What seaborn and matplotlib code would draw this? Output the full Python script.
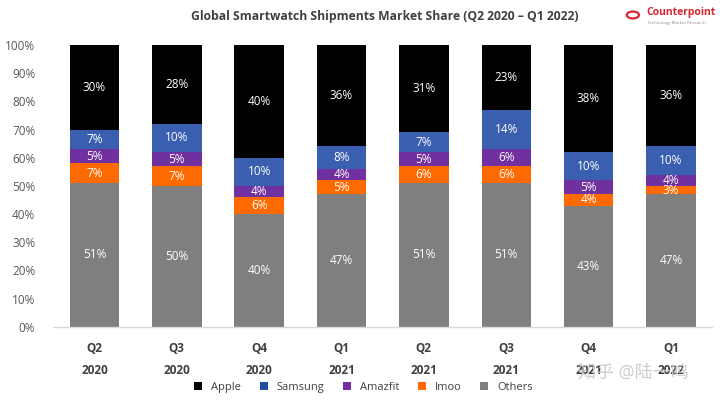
import matplotlib
matplotlib.use("Agg")
import matplotlib.pyplot as plt
import seaborn as sns
import numpy as np
from matplotlib.patches import Circle, Patch

sns.set_theme(style="white")
plt.rcParams['font.family'] = ['Open Sans', 'Noto Sans CJK SC', 'DejaVu Sans']

quarters = ["Q2\n2020", "Q3\n2020", "Q4\n2020", "Q1\n2021",
            "Q2\n2021", "Q3\n2021", "Q4\n2021", "Q1\n2022"]
others = [51, 50, 40, 47, 51, 51, 43, 47]
imoo = [7, 7, 6, 5, 6, 6, 4, 3]
amazfit = [5, 5, 4, 4, 5, 6, 5, 4]
samsung = [7, 10, 10, 8, 7, 14, 10, 10]
apple = [30, 28, 40, 36, 31, 23, 38, 36]

series = [("Others", others, "#7f7f7f"),
          ("Imoo", imoo, "#ff6a00"),
          ("Amazfit", amazfit, "#7030a0"),
          ("Samsung", samsung, "#3a5fb0"),
          ("Apple", apple, "#000000")]

fig = plt.figure(figsize=(7.2, 4.05), dpi=100)
ax = fig.add_axes([0.074, 0.193, 0.915, 0.696])

cum = np.zeros(len(quarters))
for name, vals, col in series:
    sns.barplot(x=quarters, y=vals, bottom=cum, color=col, width=0.6,
                ax=ax, saturation=1, edgecolor="none", linewidth=0, legend=False)
    cont = ax.containers[-1]
    ax.bar_label(cont, labels=[f"{v}%" for v in vals], label_type="center",
                 color="white", fontsize=8.5)
    cum = cum + np.array(vals)

if ax.get_legend() is not None:
    ax.get_legend().remove()

ax.set_ylim(0, 100)
ax.set_xlim(-0.5, len(quarters) - 0.5)
ax.set_yticks(range(0, 101, 10))
ax.set_yticklabels([f"{t}%" for t in range(0, 101, 10)], color="#595959", fontsize=8.5)
ax.tick_params(axis="y", length=0, pad=13)
ax.tick_params(axis="x", length=0, pad=11)
for lab in ax.get_xticklabels():
    lab.set_fontweight("bold")
    lab.set_color("#404040")
    lab.set_fontsize(8.5)
    lab.set_linespacing(1.9)
for s in ["top", "right", "left"]:
    ax.spines[s].set_visible(False)
ax.spines["bottom"].set_color("#d9d9d9")
ax.spines["bottom"].set_linewidth(1)
ax.set_xlabel("")
ax.set_ylabel("")

order = ["Apple", "Samsung", "Amazfit", "Imoo", "Others"]
leg_cols = {"Apple": "#000000", "Samsung": "#1f4e9e", "Amazfit": "#7030a0",
            "Imoo": "#ff6a00", "Others": "#7f7f7f"}
leg_handles = [Patch(facecolor=leg_cols[n], edgecolor="none") for n in order]
fig.legend(leg_handles, order, loc="center", bbox_to_anchor=(0.505, 0.043), ncol=5,
           frameon=False, fontsize=8, handlelength=0.7, handleheight=0.7,
           columnspacing=1.7, handletextpad=0.8, labelcolor="#404040")

fig.text(0.535, 0.96, "Global Smartwatch Shipments Market Share (Q2 2020 \u2013 Q1 2022)",
         ha="center", va="center", fontsize=8.7, fontweight="bold", color="#404040")

# logo
fig.text(0.898, 0.968, "Counterpoint", ha="left", va="center", fontsize=7.5,
         fontweight="bold", color="#d7262f")
fig.text(0.899, 0.942, "Technology Market Research", ha="left", va="center",
         fontsize=3.2, color="#909090")
circ = Circle((0.879, 0.963), 0.0085, transform=fig.transFigure, fill=False,
              edgecolor="#d7262f", linewidth=1.6)
fig.add_artist(circ)

fig.text(0.88, 0.079, "知乎 @陆一鸣", ha="center", va="center", fontsize=13,
         color="#c8c8c8", alpha=0.9)

fig.savefig("out.png", dpi=100)
